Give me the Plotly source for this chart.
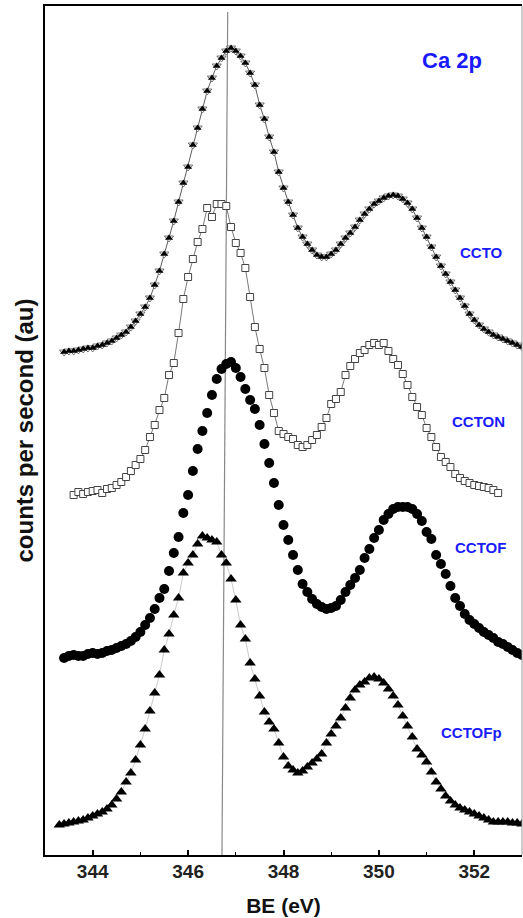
import plotly.graph_objects as go

# Binding energy grid (eV)
BE = [343.3, 343.4, 343.5, 343.6, 343.7, 343.8, 343.9,
      344.0, 344.1, 344.2, 344.3, 344.4, 344.5, 344.6, 344.7, 344.8, 344.9,
      345.0, 345.1, 345.2, 345.3, 345.4, 345.5, 345.6, 345.7, 345.8, 345.9,
      346.0, 346.1, 346.2, 346.3, 346.4, 346.5, 346.6, 346.7, 346.8, 346.9,
      347.0, 347.1, 347.2, 347.3, 347.4, 347.5, 347.6, 347.7, 347.8, 347.9,
      348.0, 348.1, 348.2, 348.3, 348.4, 348.5, 348.6, 348.7, 348.8, 348.9,
      349.0, 349.1, 349.2, 349.3, 349.4, 349.5, 349.6, 349.7, 349.8, 349.9,
      350.0, 350.1, 350.2, 350.3, 350.4, 350.5, 350.6, 350.7, 350.8, 350.9,
      351.0, 351.1, 351.2, 351.3, 351.4, 351.5, 351.6, 351.7, 351.8, 351.9,
      352.0, 352.1, 352.2, 352.3, 352.4, 352.5, 352.6, 352.7, 352.8, 352.9,
      353.0]

# CCTO (343.4 .. 353.0)
ccto_x = BE[1:]
ccto_y = [503, 504, 504, 505, 506, 507,
          507, 509, 510, 512, 514, 517, 520, 523, 528, 534,
          541, 548, 557, 570, 584, 601, 617, 634, 653, 672,
          688, 710, 727, 746, 764, 777, 789, 797, 804, 807,
          804, 799, 792, 782, 770, 750, 736, 718, 703, 683,
          667, 653, 640, 627, 618, 611, 605, 600, 598, 598,
          601, 605, 611, 617, 622, 628, 635, 641, 646, 651,
          654, 657, 659, 660, 659, 656, 652, 646, 637, 627,
          618, 608, 598, 589, 581, 573, 565, 557, 549, 541,
          535, 530, 526, 523, 520, 518, 516, 514, 512, 510,
          508]

# CCTON (343.6 .. 352.5)
ccton_x = BE[3:93]
ccton_y = [360, 363, 361, 363,
           364, 365, 362, 366, 367, 370, 373, 378, 384, 390,
           396, 405, 418, 430, 445, 457, 480, 492, 522, 556,
           578, 596, 613, 626, 647, 638, 651, 651, 649, 628,
           612, 602, 587, 558, 528, 506, 487, 460, 442, 424,
           421, 418, 416, 410, 408, 410, 415, 420, 428, 437,
           451, 456, 463, 480, 489, 496, 502, 505, 510, 512,
           510, 512, 504, 496, 490, 481, 470, 458, 448, 440,
           427, 418, 408, 398, 393, 388, 381, 377, 374, 372,
           370, 369, 368, 367, 365, 362]

# CCTOF (343.4 .. 353.0)
cctof_x = BE[1:]
cctof_y = [197, 199, 200, 199, 199, 201,
           202, 201, 202, 204, 205, 207, 209, 211, 214, 218,
           223, 230, 237, 246, 257, 266, 284, 302, 318, 342,
           360, 384, 406, 424, 442, 460, 476, 486, 491, 493,
           487, 478, 466, 455, 446, 430, 411, 392, 372, 350,
           330, 315, 300, 285, 271, 263, 256, 251, 248, 246,
           247, 249, 255, 263, 270, 277, 285, 297, 306, 317,
           325, 335, 341, 346, 348, 348, 348, 346, 341, 334,
           323, 316, 300, 291, 281, 269, 257, 249, 241, 235,
           231, 227, 223, 220, 217, 213, 211, 208, 205, 202,
           200]

# CCTOFp (343.3 .. 353.0)
cctofp_x = BE
cctofp_y = [30, 31, 32, 33, 34, 35, 37,
            39, 41, 43, 46, 50, 56, 63, 73, 82, 95,
            110, 126, 144, 162, 180, 205, 221, 240, 257, 282,
            292, 300, 311, 319, 317, 315, 313, 300, 292, 276,
            255, 230, 216, 192, 176, 159, 143, 133, 126, 112,
            98, 89, 85, 82, 84, 88, 92, 96, 101, 112,
            121, 129, 137, 147, 157, 165, 170, 173, 177, 178,
            176, 172, 166, 159, 150, 139, 129, 118, 106, 100,
            93, 83, 73, 66, 59, 54, 50, 47, 45, 43,
            41, 39, 37, 35, 33, 33, 33, 33, 32, 32,
            31]

assert len(ccto_x) == len(ccto_y)
assert len(ccton_x) == len(ccton_y)
assert len(cctof_x) == len(cctof_y)
assert len(cctofp_x) == len(cctofp_y)

# Reference line position (eV), slightly tilted in the original
ref_line_x = [346.83, 346.71]
ref_line_y = [843, 0]

labels = ["Ca 2p", "CCTO", "CCTON", "CCTOF", "CCTOFp"]
label_x = [351.53, 352.16, 352.08, 352.14, 351.95]
label_y = [795, 603, 434, 308, 123]
label_size = [22, 15, 15, 15, 15]

FONT = "Liberation Sans, Arial, sans-serif"

fig = go.Figure()

# CCTO: open down-triangles + filled up-triangles with thin line
fig.add_trace(go.Scatter(
    x=ccto_x, y=ccto_y, mode="lines+markers",
    line=dict(color="#333333", width=0.8),
    marker=dict(symbol="triangle-down", size=8, color="white",
                line=dict(color="#555555", width=0.8)),
    showlegend=False, hoverinfo="skip"))
fig.add_trace(go.Scatter(
    x=ccto_x, y=ccto_y, mode="markers",
    marker=dict(symbol="triangle-up", size=7, color="black"),
    showlegend=False, name="CCTO"))

# CCTON: open squares with thin line
fig.add_trace(go.Scatter(
    x=ccton_x, y=ccton_y, mode="lines+markers",
    line=dict(color="#555555", width=0.8),
    marker=dict(symbol="square", size=7, color="white",
                line=dict(color="#444444", width=1)),
    showlegend=False, name="CCTON"))

# CCTOF: filled circles
fig.add_trace(go.Scatter(
    x=cctof_x, y=cctof_y, mode="markers",
    marker=dict(symbol="circle", size=10, color="black"),
    showlegend=False, name="CCTOF"))

# CCTOFp: filled triangles with light line
fig.add_trace(go.Scatter(
    x=cctofp_x, y=cctofp_y, mode="lines+markers",
    line=dict(color="#bbbbbb", width=0.8),
    marker=dict(symbol="triangle-up", size=10, color="black"),
    showlegend=False, name="CCTOFp"))

fig.add_shape(type="line", xref="x", yref="y",
              x0=ref_line_x[0], y0=ref_line_y[0],
              x1=ref_line_x[1], y1=ref_line_y[1],
              line=dict(color="#888888", width=1.2), layer="below")

# right frame edge (thin gray)
fig.add_shape(type="line", xref="paper", yref="paper",
              x0=1, y0=0, x1=1, y1=1,
              line=dict(color="#999999", width=1))

for t, lx, ly, s in zip(labels, label_x, label_y, label_size):
    fig.add_annotation(x=lx, y=ly, xref="x", yref="y", text=t,
                       showarrow=False,
                       font=dict(family=FONT, size=s, color="#1a1aff",
                                 weight="bold"))

fig.update_layout(
    width=523, height=918,
    margin=dict(l=45, r=1, t=6, b=63),
    paper_bgcolor="white", plot_bgcolor="white",
    showlegend=False,
    font=dict(family=FONT, color="black"),
)

fig.update_xaxes(
    range=[343.0, 353.0], automargin=False,
    tickvals=[344, 346, 348, 350, 352],
    ticktext=["344", "346", "348", "350", "352"],
    ticks="inside", ticklen=5, tickwidth=1.5, tickcolor="black",
    minor=dict(dtick=1, tick0=343, ticks="inside", ticklen=3,
               tickwidth=1, tickcolor="black"),
    ticklabelstandoff=-2,
    tickfont=dict(family=FONT, size=19, color="#222222", weight="bold"),
    showline=True, linecolor="black", linewidth=2, mirror=True,
    showgrid=False, zeroline=False,
    title=dict(text="BE (eV)", standoff=18,
               font=dict(family=FONT, size=21, color="#111111",
                         weight="bold")),
)

fig.update_yaxes(
    range=[0, 849], automargin=False,
    showticklabels=False, ticks="",
    showline=True, linecolor="black", linewidth=2, mirror=False,
    showgrid=False, zeroline=False,
    title=dict(text="counts per second (au)", standoff=3,
               font=dict(family=FONT, size=24, color="#111111",
                         weight="bold")),
)

fig.write_html("out.html",
               config={"displayModeBar": False},
               post_script="document.body.style.margin='0';")
